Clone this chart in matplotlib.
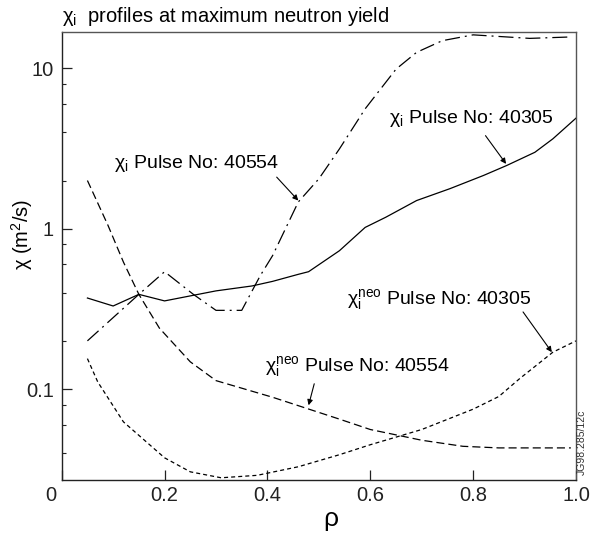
import matplotlib
matplotlib.use('Agg')
import matplotlib.pyplot as plt
from matplotlib.ticker import LogLocator, NullFormatter

plt.rcParams['font.family'] = ['Liberation Sans', 'DejaVu Sans']
plt.rcParams['mathtext.default'] = 'regular'
plt.rcParams['lines.scale_dashes'] = False

# chi_i, pulse 40305 (solid)
rho_chi_40305 = [0.05, 0.10, 0.15, 0.20, 0.30, 0.37, 0.41, 0.46, 0.48, 0.54, 0.59,
                 0.63, 0.69, 0.755, 0.82, 0.865, 0.92, 0.955, 1.0]
chi_40305 = [0.37, 0.33, 0.39, 0.355, 0.41, 0.44, 0.47, 0.52, 0.54, 0.73, 1.02,
             1.18, 1.50, 1.78, 2.15, 2.48, 3.0, 3.64, 4.9]

# chi_i, pulse 40554 (dash-dot)
rho_chi_40554 = [0.05, 0.15, 0.20, 0.256, 0.30, 0.35, 0.386, 0.41, 0.46, 0.50, 0.54,
                 0.59, 0.65, 0.69, 0.74, 0.80, 0.91, 0.985]
chi_40554 = [0.20, 0.39, 0.54, 0.39, 0.31, 0.31, 0.51, 0.68, 1.47, 2.05, 3.15,
             5.6, 9.9, 12.6, 14.9, 16.2, 15.4, 15.7]

# chi_i neo, pulse 40554 (long dashes)
rho_neo_40554 = [0.05, 0.09, 0.12, 0.15, 0.19, 0.25, 0.30, 0.41, 0.54, 0.60, 0.70,
                 0.78, 0.85, 0.99]
neo_40554 = [2.0, 1.05, 0.62, 0.39, 0.24, 0.148, 0.113, 0.089, 0.065, 0.056, 0.048,
             0.044, 0.043, 0.043]

# chi_i neo, pulse 40305 (short dashes)
rho_neo_40305 = [0.05, 0.07, 0.12, 0.20, 0.25, 0.31, 0.38, 0.46, 0.54, 0.60, 0.70,
                 0.80, 0.85, 0.89, 0.955, 1.0]
neo_40305 = [0.155, 0.111, 0.0625, 0.0373, 0.0305, 0.028, 0.029, 0.0328, 0.039,
             0.045, 0.056, 0.075, 0.09, 0.116, 0.17, 0.20]

x_ticks = [0, 0.2, 0.4, 0.6, 0.8, 1.0]
x_labels = ['', '0.2', '0.4', '0.6', '0.8', '1.0']
y_ticks = [0.1, 1, 10]
y_labels = ['0.1', '1', '10']

fig = plt.figure(figsize=(6.05, 5.36), dpi=100)
ax = fig.add_axes([0.102, 0.1039, 0.8501, 0.8358])

lw = 0.9
ax.plot(rho_chi_40305, chi_40305, color='black', lw=lw)
ax.plot(rho_chi_40554, chi_40554, color='black', lw=lw,
        linestyle=(0, (10.8, 3.6, 1.4, 3.6)))
ax.plot(rho_neo_40554, neo_40554, color='black', lw=lw,
        linestyle=(0, (5.8, 2.9)))
ax.plot(rho_neo_40305, neo_40305, color='black', lw=lw,
        linestyle=(0, (2.9, 2.2)))

ax.set_yscale('log')
ax.set_xlim(0, 1.0)
ax.set_ylim(0.027, 16.8)

ax.set_xticks(x_ticks)
ax.set_xticklabels(x_labels)
ax.set_yticks(y_ticks)
ax.set_yticklabels(y_labels)
ax.yaxis.set_minor_locator(LogLocator(base=10, subs=(2, 4, 6, 8)))
ax.yaxis.set_minor_formatter(NullFormatter())
ax.tick_params(axis='both', which='major', direction='in', length=7, width=0.9,
               labelsize=14.5, colors='#222222')
ax.tick_params(axis='x', which='major', pad=4.3)
ax.tick_params(axis='y', which='major', pad=5.5)
ax.tick_params(axis='y', which='minor', direction='in', length=3, width=0.8,
               colors='#222222')
# origin label sits a little left of the axis corner
ax.text(-0.0214, -0.0134, '0', transform=ax.transAxes, ha='center', va='top',
        fontsize=14.5, color='#222222')

for side in ['left', 'bottom']:
    ax.spines[side].set_color('#222222')
for side in ['top', 'right']:
    ax.spines[side].set_color('#555555')
for s in ax.spines.values():
    s.set_linewidth(1.0)

ax.set_xlabel('ρ', fontsize=19)
ax.xaxis.set_label_coords(0.524, -0.06)
ax.set_ylabel('χ (m$^2$/s)', fontsize=14.5)
ax.yaxis.set_label_coords(-0.052, 0.548)

fig.text(62 / 605, 1 - 16 / 536, '$χ_i$  profiles at maximum neutron yield',
         ha='left', va='center', fontsize=14.5)

arrow = dict(arrowstyle='-|>', color='black', lw=0.8, mutation_scale=8,
             shrinkA=0, shrinkB=0)
ax.text(0.263, 2.54, '$χ_i$ Pulse No: 40554', ha='center', va='center', fontsize=14)
ax.annotate('', xy=(0.460, 1.50), xytext=(0.418, 2.10), arrowprops=arrow)
ax.text(0.796, 4.85, '$χ_i$ Pulse No: 40305', ha='center', va='center', fontsize=14)
ax.annotate('', xy=(0.864, 2.54), xytext=(0.824, 3.81), arrowprops=arrow)
ax.text(0.734, 0.361, '$χ_i^{neo}$ Pulse No: 40305', ha='center', va='center',
        fontsize=14)
ax.annotate('', xy=(0.953, 0.17), xytext=(0.897, 0.303), arrowprops=arrow)
ax.text(0.575, 0.138, '$χ_i^{neo}$ Pulse No: 40554', ha='center', va='center',
        fontsize=14)
ax.annotate('', xy=(0.480, 0.0793), xytext=(0.491, 0.108), arrowprops=arrow)

ax.text(1.011, 0.0855, 'JG98.285/12c', transform=ax.transAxes, rotation=90,
        ha='center', va='center', fontsize=7.5, color='#333333')

fig.savefig('out.png', dpi=100)
